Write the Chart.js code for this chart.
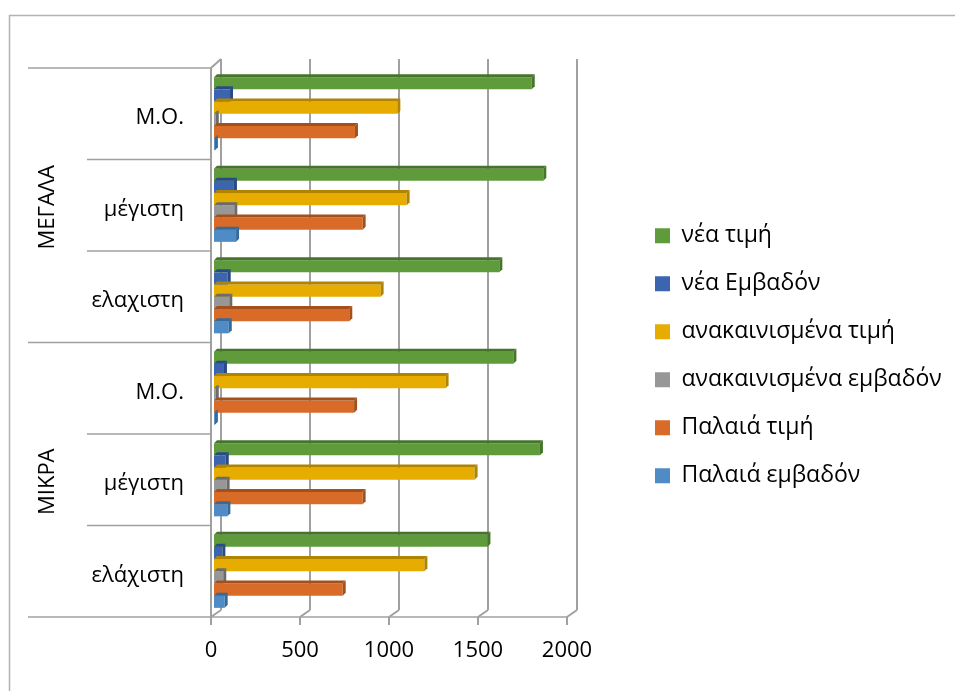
<!DOCTYPE html>
<html>
<head>
<meta charset="utf-8">
<script src="https://cdn.jsdelivr.net/npm/chart.js@4/dist/chart.umd.min.js"></script>
<style>
  html, body { margin: 0; padding: 0; background: #fff; }
  #wrap { width: 955px; height: 691px; position: relative; }
</style>
</head>
<body>
<div id="wrap"><canvas id="c" width="955" height="691"></canvas></div>
<script>
// ---- data (top to bottom) ----
const categories = ['Μ.Ο.', 'μέγιστη', 'ελαχιστη', 'Μ.Ο.', 'μέγιστη', 'ελάχιστη'];
const groups = ['ΜΕΓΑΛΑ', 'ΜΙΚΡΑ'];
const groupSizes = [3, 3];
const seriesNames = ['νέα τιμή', 'νέα Εμβαδόν', 'ανακαινισμένα τιμή', 'ανακαινισμένα εμβαδόν', 'Παλαιά τιμή', 'Παλαιά εμβαδόν'];
const neaTimi        = [1785, 1850, 1603, 1682, 1831, 1536];
const neaEmvadon     = [90, 112, 77, 56, 66, 47];
const anakTimi       = [1030, 1082, 936, 1301, 1464, 1182];
const anakEmvadon    = [10, 114, 86, 10, 71, 52];
const palaiaTimi     = [792, 835, 760, 787, 835, 723];
const palaiaEmvadon  = [5, 124, 83, 5, 75, 60];
const xTicks = [0, 500, 1000, 1500, 2000];
const xTickLabels = ['0', '500', '1000', '1500', '2000'];

const colors = ['#5f9b3b', '#3c65b0', '#e6ac00', '#979797', '#d86b28', '#4f8cc6'];
const sideColors = ['#44752a', '#2a4a85', '#b08300', '#6b6b6b', '#a4501c', '#376a99'];
const seriesValues = [neaTimi, neaEmvadon, anakTimi, anakEmvadon, palaiaTimi, palaiaEmvadon];

const FONT = "'Open Sans', sans-serif";
const FS = 22;
const LFS = 23;
Chart.defaults.font.family = FONT;
Chart.defaults.color = '#000';

const deco = {
  id: 'deco',
  beforeLayout(chart) {
    const lg = chart.legend;
    if (lg && !lg._patched) {
      const orig = lg.fit;
      lg.fit = function () { orig.call(this); this.width = 385; };
      lg._patched = true;
    }
  },
  afterLayout(chart) {
    const lg = chart.legend;
    if (lg) { lg.left = 630; lg.top = 60; lg.bottom = 651.4; }
  },
  beforeDraw(chart) {
    const ctx = chart.ctx;
    ctx.save();
    ctx.strokeStyle = '#b3b3b3';
    ctx.lineWidth = 1.5;
    ctx.strokeRect(9.5, 15.5, 1000, 800);
    ctx.restore();
  },
  beforeDatasetsDraw(chart) {
    const { ctx, chartArea: a, scales: { x, y } } = chart;
    const F = -3, BX = 7, BYT = 9, BYB = 7;
    const line = (x1, y1, x2, y2) => { ctx.beginPath(); ctx.moveTo(x1, y1); ctx.lineTo(x2, y2); ctx.stroke(); };
    ctx.save();
    ctx.strokeStyle = '#a0a0a0';
    ctx.lineWidth = 2;
    x.ticks.forEach(t => {
      const px = x.getPixelForValue(t.value);
      line(px + BX, a.top - BYT, px + BX, a.bottom - BYB);
      line(px + F, a.bottom, px + BX, a.bottom - BYB);
      line(px + F, a.bottom, px + F, a.bottom + 8);
    });
    const p0 = x.getPixelForValue(0);
    line(p0 + F, a.top, p0 + F, a.bottom);
    line(p0 + F, a.top, p0 + BX, a.top - BYT);
    ctx.lineWidth = 1.5;
    line(28, a.bottom, x.getPixelForValue(2000) + F, a.bottom);
    const n = categories.length;
    const band = (a.bottom - a.top) / n;
    const groupBounds = [0];
    groupSizes.reduce((s, g) => { groupBounds.push(s + g); return s + g; }, 0);
    for (let k = 0; k < n; k++) {
      const yy = a.top + k * band;
      const start = groupBounds.includes(k) ? 28 : 87;
      line(start, yy, p0 + F, yy);
    }
    ctx.fillStyle = '#000';
    ctx.font = FS + 'px ' + FONT;
    ctx.textAlign = 'center';
    ctx.textBaseline = 'middle';
    let acc = 0;
    groups.forEach((g, i) => {
      const y1 = a.top + acc * band;
      acc += groupSizes[i];
      const y2 = a.top + acc * band;
      ctx.save();
      ctx.translate(48, (y1 + y2) / 2 + 2);
      ctx.rotate(-Math.PI / 2);
      ctx.fillText(g, 0, 0);
      ctx.restore();
    });
    ctx.restore();
  },
  afterDatasetsDraw(chart) {
    const ctx = chart.ctx;
    const d = 3;
    ctx.save();
    chart.data.datasets.forEach((ds, i) => {
      const meta = chart.getDatasetMeta(i);
      meta.data.forEach(el => {
        const top = el.y - el.height / 2, bot = el.y + el.height / 2;
        const xe = el.x, xb = el.base;
        ctx.fillStyle = sideColors[i];
        ctx.beginPath();
        ctx.moveTo(xb, top); ctx.lineTo(xb + d, top - d); ctx.lineTo(xe + d, top - d); ctx.lineTo(xe, top); ctx.closePath();
        ctx.fill();
        ctx.beginPath();
        ctx.moveTo(xe, top); ctx.lineTo(xe + d, top - d); ctx.lineTo(xe + d, bot - d); ctx.lineTo(xe, bot); ctx.closePath();
        ctx.fill();
      });
    });
    ctx.restore();
  }
};

new Chart(document.getElementById('c'), {
  type: 'bar',
  data: {
    labels: categories,
    datasets: seriesNames.map((name, i) => ({
      label: name,
      data: seriesValues[i],
      backgroundColor: colors[i],
      borderWidth: 0,
      categoryPercentage: 0.8,
      barPercentage: 1.0
    }))
  },
  options: {
    indexAxis: 'y',
    responsive: false,
    animation: false,
    layout: { padding: { top: 68, bottom: 0, left: 0, right: 0 } },
    scales: {
      x: {
        min: 0, max: 2000,
        afterBuildTicks: (s) => { s.ticks = xTicks.map(v => ({ value: v })); },
        afterFit: (s) => { s.height = 74; },
        grid: { display: false, drawTicks: false },
        border: { display: false },
        ticks: {
          font: { size: FS }, color: '#000', padding: 21, labelOffset: -3, maxRotation: 0, autoSkip: false,
          callback: (v, i) => xTickLabels[i]
        }
      },
      y: {
        afterFit: (s) => { s.width = 214; },
        grid: { display: false, drawTicks: false },
        border: { display: false },
        ticks: { font: { size: FS }, color: '#000', padding: 30, labelOffset: 4 }
      }
    },
    plugins: {
      legend: {
        position: 'right',
        labels: { font: { size: LFS }, color: '#000', boxWidth: 15, boxHeight: 15, padding: 25 }
      },
      tooltip: { enabled: false }
    }
  },
  plugins: [deco]
});
</script>
</body>
</html>
